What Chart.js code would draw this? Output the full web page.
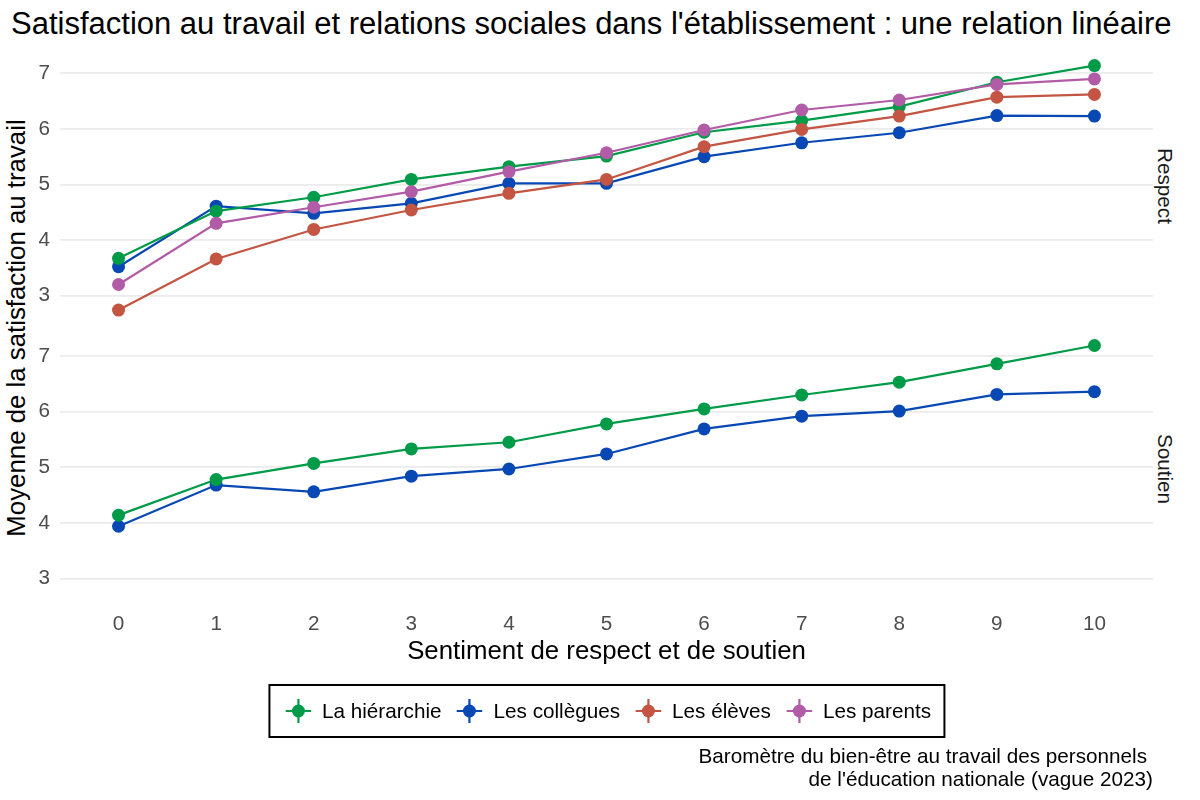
<!DOCTYPE html>
<html lang="fr">
<head>
<meta charset="utf-8">
<script src="https://cdn.jsdelivr.net/npm/chart.js@4/dist/chart.umd.min.js"></script>
<style>
  html, body { margin: 0; padding: 0; background: #fff; }
  body { width: 1200px; height: 800px; position: relative; overflow: hidden;
         font-family: "Liberation Sans", Arial, sans-serif; color: #000; }
  canvas { position: absolute; left: 0; top: 0; }
  .title { position: absolute; left: 11px; top: 8px; font-size: 31px; line-height: 31px; white-space: nowrap; }
  .ytitle { position: absolute; left: 16.5px; top: 327.5px; font-size: 25.8px; line-height: 25.8px;
            transform: translate(-50%, -50%) rotate(-90deg); white-space: nowrap; }
  .strip { position: absolute; left: 1165px; font-size: 20.7px; line-height: 20.7px; color: #1a1a1a;
           transform: translate(-50%, -50%) rotate(90deg); white-space: nowrap; }
  .legend { position: absolute; left: 606.5px; top: 684px; height: 54px; transform: translateX(-50%);
            border: 2px solid #000; box-sizing: border-box; display: flex; align-items: center;
            padding: 0 12px 0 15px; font-size: 20.7px; white-space: nowrap; }
  .legend .item { display: flex; align-items: center; margin-right: 15px; }
  .legend .item:last-child { margin-right: 0; }
  .legend svg { margin-right: 11px; }
  .caption { position: absolute; right: 47px; top: 744px; font-size: 20.7px; line-height: 23px; text-align: right; white-space: nowrap; }
  .caption .l1 { padding-right: 6px; }
</style>
</head>
<body>
<div class="title">Satisfaction au travail et relations sociales dans l'établissement : une relation linéaire</div>
<div class="ytitle">Moyenne de la satisfaction au travail</div>
<div class="strip" style="top:186px">Respect</div>
<div class="strip" style="top:469px">Soutien</div>
<canvas id="respectChart" width="1200" height="800"></canvas>
<canvas id="soutienChart" width="1200" height="800"></canvas>
<div class="legend" id="legend"></div>
<div class="caption"><div class="l1">Baromètre du bien-être au travail des personnels</div><div>de l'éducation nationale (vague 2023)</div></div>

<script>
// Sentiment de respect / soutien (0 à 10)
const xValues = [0, 1, 2, 3, 4, 5, 6, 7, 8, 9, 10];
const yTicks = [3, 4, 5, 6, 7];

const seriesNames = ['La hiérarchie', 'Les collègues', 'Les élèves', 'Les parents'];
const seriesColors = ['#009B48', '#0848B4', '#C45543', '#B25BA6'];
const drawOrder = [2, 3, 1, 0]; // plus petit = dessiné au-dessus

// Panneau "Respect"
const respectHierarchie = [3.67, 4.52, 4.77, 5.09, 5.32, 5.51, 5.94, 6.15, 6.40, 6.84, 7.14];
const respectCollegues  = [3.52, 4.61, 4.48, 4.66, 5.02, 5.02, 5.50, 5.75, 5.93, 6.24, 6.23];
const respectEleves     = [2.74, 3.66, 4.19, 4.54, 4.84, 5.09, 5.68, 5.99, 6.23, 6.57, 6.62];
const respectParents    = [3.20, 4.30, 4.59, 4.87, 5.23, 5.57, 5.98, 6.34, 6.52, 6.80, 6.90];

// Panneau "Soutien"
const soutienHierarchie = [4.14, 4.78, 5.07, 5.33, 5.45, 5.78, 6.05, 6.30, 6.53, 6.86, 7.19];
const soutienCollegues  = [3.94, 4.68, 4.56, 4.84, 4.97, 5.24, 5.69, 5.92, 6.01, 6.31, 6.36];

// échelle y commune aux deux panneaux (+5 % de marge)
const allValues = [].concat(respectHierarchie, respectCollegues, respectEleves, respectParents,
                            soutienHierarchie, soutienCollegues);
const yLo = Math.min(...allValues), yHi = Math.max(...allValues);
const yPad = (yHi - yLo) * 0.05;

const font = 'Liberation Sans';

function makeDatasets(seriesList) {
  return seriesList.map((values, i) => ({
    label: seriesNames[i],
    data: values.map((v, j) => ({ x: xValues[j], y: v })),
    borderColor: seriesColors[i],
    backgroundColor: seriesColors[i],
    pointBackgroundColor: seriesColors[i],
    pointBorderWidth: 0,
    pointRadius: 6.5,
    borderWidth: 2.2,
    tension: 0,
    order: drawOrder[i]
  }));
}

function makePanel(id, seriesList, area, showX) {
  const xHeight = showX ? 70 : 0;
  return new Chart(document.getElementById(id).getContext('2d'), {
    type: 'line',
    data: { datasets: makeDatasets(seriesList) },
    options: {
      responsive: false,
      animation: false,
      events: [],
      layout: {
        padding: {
          left: 0,
          right: 1200 - area.right,
          top: area.top,
          bottom: 800 - area.bottom - xHeight
        }
      },
      plugins: { legend: { display: false }, tooltip: { enabled: false } },
      scales: {
        x: {
          type: 'linear',
          min: xValues[0] - 0.6,
          max: xValues[xValues.length - 1] + 0.6,
          display: showX,
          afterBuildTicks: s => { s.ticks = xValues.map(v => ({ value: v })); },
          afterFit: s => { s.height = xHeight; },
          grid: { display: false },
          border: { display: false },
          ticks: { padding: -2, color: '#4D4D4D', font: { family: font, size: 20.7 } },
          title: {
            display: true,
            text: 'Sentiment de respect et de soutien',
            color: '#000',
            font: { family: font, size: 25.8 },
            padding: { top: 0, bottom: 8 }
          }
        },
        y: {
          min: yLo - yPad,
          max: yHi + yPad,
          afterBuildTicks: s => { s.ticks = yTicks.map(v => ({ value: v })); },
          afterFit: s => { s.width = area.left; },
          grid: { color: '#EBEBEB', lineWidth: 1.8, drawTicks: false },
          border: { display: false },
          ticks: { padding: 10, color: '#4D4D4D', font: { family: font, size: 20.7 } }
        }
      }
    }
  });
}

makePanel('respectChart',
  [respectHierarchie, respectCollegues, respectEleves, respectParents],
  { left: 60, right: 1153, top: 50.4, bottom: 322.4 }, false);

makePanel('soutienChart',
  [soutienHierarchie, soutienCollegues],
  { left: 60, right: 1153, top: 333.1, bottom: 605.4 }, true);

// légende
const legend = document.getElementById('legend');
seriesNames.forEach((name, i) => {
  const c = seriesColors[i];
  const item = document.createElement('div');
  item.className = 'item';
  item.innerHTML =
    '<svg width="26" height="26" viewBox="0 0 26 26">' +
    '<line x1="0" y1="13" x2="26" y2="13" stroke="' + c + '" stroke-width="2.2"/>' +
    '<line x1="13" y1="1" x2="13" y2="25" stroke="' + c + '" stroke-width="2.2"/>' +
    '<circle cx="13" cy="13" r="6.5" fill="' + c + '"/></svg>' +
    '<span>' + name + '</span>';
  legend.appendChild(item);
});
</script>
</body>
</html>
